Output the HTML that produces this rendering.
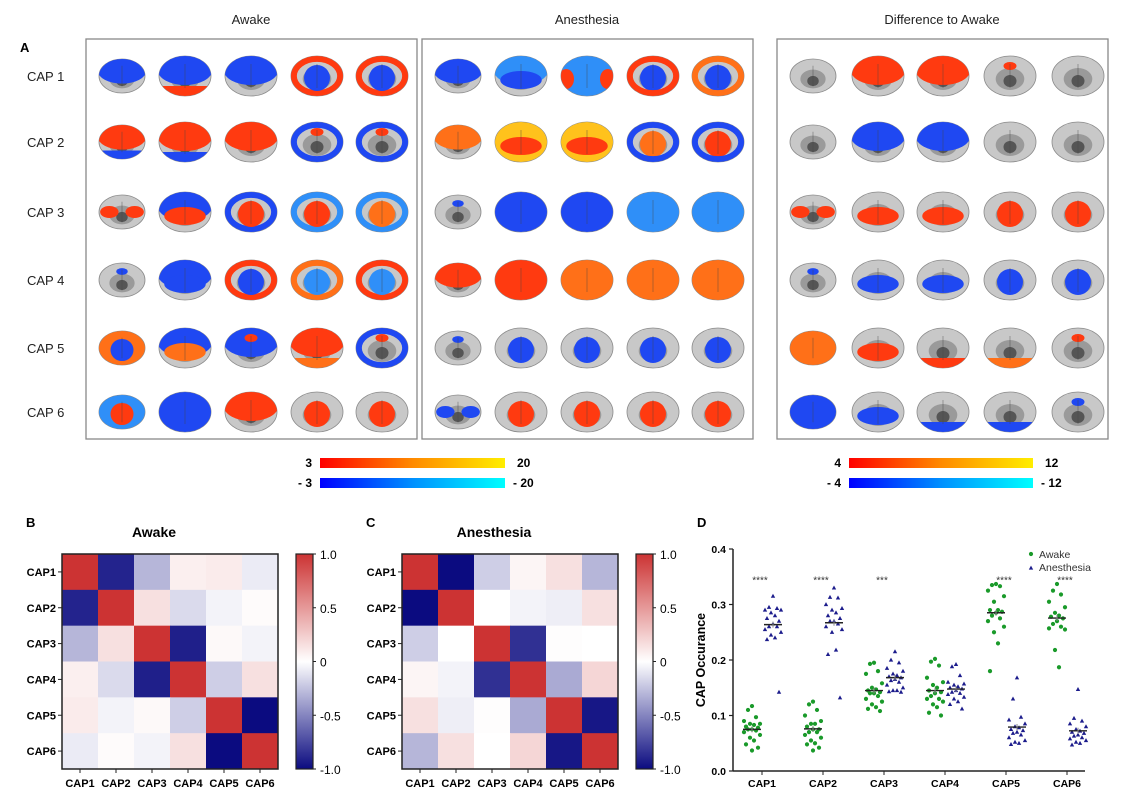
<!DOCTYPE html>
<html><head><meta charset="utf-8"><style>
body{margin:0;background:#fff;}
svg{display:block;font-family:"Liberation Sans",Arial,sans-serif;}
</style></head><body>
<svg id="fig" width="1125" height="811" viewBox="0 0 1125 811" xmlns="http://www.w3.org/2000/svg">
<defs>
<linearGradient id="gRed" x1="0" x2="1"><stop offset="0" stop-color="#ff0000"/><stop offset="0.5" stop-color="#ff8a00"/><stop offset="1" stop-color="#ffee00"/></linearGradient>
<linearGradient id="gBlue" x1="0" x2="1"><stop offset="0" stop-color="#0000ff"/><stop offset="0.5" stop-color="#0090ff"/><stop offset="1" stop-color="#00ffff"/></linearGradient>
<linearGradient id="gCorr" x1="0" y1="1" x2="0" y2="0"><stop offset="0" stop-color="#0b0b80"/><stop offset="0.5" stop-color="#ffffff"/><stop offset="1" stop-color="#cc3333"/></linearGradient>
</defs>
<g id="panelA"></g>
<g id="panelB"></g>
<g id="panelC"></g>
<g id="panelD"></g>
</svg>
<script>
// ---------- Panel A brain maps (qualitative specs) ----------
const capRows = ["CAP 1","CAP 2","CAP 3","CAP 4","CAP 5","CAP 6"];
const awakeSpec = [
 ["B:top","B:top,R:bottom","B:top","R:shell,B:center","R:shell,B:center"],
 ["R:top,B:bottom","R:top,B:bottom","R:top","B:shell,R:small","B:shell,R:small"],
 ["R:patch","B:top,R:mid","B:shell,R:center","L:shell,R:center","L:shell,O:center"],
 ["B:small","B:top,B:mid","R:shell,B:center","O:shell,L:center","R:shell,L:center"],
 ["O:full,B:center","B:top,O:mid","B:top,R:small","R:top,O:bottom","B:shell,R:small"],
 ["L:full,R:center","B:full","R:top,R:small","R:center","R:center"]
];
const anesSpec = [
 ["B:top","L:top,B:mid","L:full,R:sides","B:center,R:shell","B:center,O:shell"],
 ["O:top","Y:full,R:mid","Y:full,R:mid","O:center,B:shell","R:center,B:shell"],
 ["B:small","B:full","B:full","L:full","L:full"],
 ["R:top","R:full","O:full","O:full","O:full"],
 ["B:small","B:center","B:center","B:center","B:center"],
 ["B:patch","R:center","R:center","R:center","R:center"]
];
const diffSpec = [
 ["","R:top","R:top","R:small",""],
 ["","B:top","B:top","",""],
 ["R:patch","R:mid","R:mid","R:center","R:center"],
 ["B:small","B:mid","B:mid","B:center","B:center"],
 ["O:full","R:mid","R:bottom","O:bottom","R:small"],
 ["B:full","B:mid","B:bottom","B:bottom","B:small"]
];
const colMap = {R:"#ff3a10",O:"#ff7018",Y:"#ffc21c",B:"#1f48f2",L:"#2f8ff8"};
const NS="http://www.w3.org/2000/svg";
function mk(tag,attrs,parent){const e=document.createElementNS(NS,tag);for(const k in attrs)e.setAttribute(k,attrs[k]);parent.appendChild(e);return e;}
const pA=document.getElementById('panelA');
const rowY=[76,142,212,280,348,412];
const boxes=[{x:86,cols:[122,185,251,317,382],spec:awakeSpec,title:"Awake",name:"awake"},
 {x:422,cols:[458,521,587,653,718],spec:anesSpec,title:"Anesthesia",name:"anesthesia"},
 {x:777,cols:[813,878,943,1010,1078],spec:diffSpec,title:"Difference to Awake",name:"difference"}];
let clipId=0;
boxes.forEach(b=>{
  const box=mk('rect',{x:b.x,y:39,width:331,height:400,fill:'none',stroke:'#888','stroke-width':1.3},pA);
  
  
  const t=mk('text',{x:b.x+165,y:24,'text-anchor':'middle','font-size':13,fill:'#222'},pA);
  t.textContent=b.title;
  
  
  b.spec.forEach((row,ri)=>{
    row.forEach((s,ci)=>{
      const cx=b.cols[ci],cy=rowY[ri];
      const rx=ci===0?23:26, ry=ci===0?17:20;
      const g=mk('g',{},pA);
      
      
      const id='c'+(clipId++);
      const cp=mk('clipPath',{id:id},g);
      mk('ellipse',{cx:cx,cy:cy,rx:rx,ry:ry},cp);
      mk('ellipse',{cx:cx,cy:cy,rx:rx,ry:ry,fill:'#c8c8c8',stroke:'#8a8a8a','stroke-width':0.8},g);
      mk('ellipse',{cx:cx,cy:cy+3,rx:rx*0.55,ry:ry*0.55,fill:'#9a9a9a'},g);
      mk('ellipse',{cx:cx,cy:cy+5,rx:rx*0.25,ry:ry*0.3,fill:'#555'},g);
      const cg=mk('g',{'clip-path':'url(#'+id+')'},g);
      if(s) s.split(',').forEach(p=>{
        const [c,k]=p.split(':');const col=colMap[c];
        if(k==='top') mk('ellipse',{cx:cx,cy:cy-ry*0.3,rx:rx*1.05,ry:ry*0.75,fill:col},cg);
        if(k==='shell'){mk('ellipse',{cx:cx,cy:cy,rx:rx,ry:ry,fill:'none',stroke:col,'stroke-width':rx*0.45},cg);}
        if(k==='center') mk('ellipse',{cx:cx,cy:cy+2,rx:rx*0.5,ry:ry*0.65,fill:col},cg);
        if(k==='full') mk('ellipse',{cx:cx,cy:cy,rx:rx,ry:ry,fill:col},cg);
        if(k==='mid') mk('ellipse',{cx:cx,cy:cy+4,rx:rx*0.8,ry:ry*0.45,fill:col},cg);
        if(k==='bottom') mk('rect',{x:cx-rx,y:cy+ry*0.5,width:rx*2,height:ry*0.6,fill:col},cg);
        if(k==='small') mk('ellipse',{cx:cx,cy:cy-ry*0.5,rx:rx*0.25,ry:ry*0.2,fill:col},cg);
        if(k==='sides'){mk('ellipse',{cx:cx-rx*0.8,cy:cy+3,rx:rx*0.3,ry:ry*0.5,fill:col},cg);mk('ellipse',{cx:cx+rx*0.8,cy:cy+3,rx:rx*0.3,ry:ry*0.5,fill:col},cg);}
        if(k==='patch'){mk('ellipse',{cx:cx-rx*0.55,cy:cy,rx:rx*0.4,ry:ry*0.35,fill:col},cg);mk('ellipse',{cx:cx+rx*0.55,cy:cy,rx:rx*0.4,ry:ry*0.35,fill:col},cg);}
      });
      // dark midline detail
      mk('line',{x1:cx,x2:cx,y1:cy-ry*0.6,y2:cy+ry*0.6,stroke:'#444','stroke-width':0.8,opacity:0.5},g);
    });
  });
});
capRows.forEach((r,i)=>{
  const t=mk('text',{x:27,y:rowY[i]+5,'font-size':13,fill:'#222'},pA);t.textContent=r;
  
  
});
{const t=mk('text',{x:20,y:52,'font-size':13,'font-weight':'bold'},pA);t.textContent='A';

}
// colour bars
const cbars=[{x:320,w:185,lo:"3",hi:"20",nlo:"- 3",nhi:"- 20"},{x:849,w:184,lo:"4",hi:"12",nlo:"- 4",nhi:"- 12"}];
cbars.forEach((c,i)=>{
  const r1=mk('rect',{x:c.x,y:458,width:c.w,height:10,fill:'url(#gRed)'},pA);
  
  
  const r2=mk('rect',{x:c.x,y:478,width:c.w,height:10,fill:'url(#gBlue)'},pA);
  
  
  [[c.lo,467,'end',c.x-8],[c.hi,467,'start',c.x+c.w+12],[c.nlo,487,'end',c.x-8],[c.nhi,487,'start',c.x+c.w+8]].forEach(a=>{
    const t=mk('text',{x:a[3],y:a[1],'text-anchor':a[2],'font-size':12,'font-weight':'bold'},pA);t.textContent=a[0];
    
    
  });
});

// ---------- Panels B/C correlation heatmaps ----------
const capLabels=["CAP1","CAP2","CAP3","CAP4","CAP5","CAP6"];
const awakeCorr=[
 [1,-0.9,-0.3,0.08,0.1,-0.08],
 [-0.9,1,0.15,-0.15,-0.05,0.02],
 [-0.3,0.15,1,-0.92,0.03,-0.05],
 [0.08,-0.15,-0.92,1,-0.2,0.15],
 [0.1,-0.05,0.03,-0.2,1,-1],
 [-0.08,0.02,-0.05,0.15,-1,1]];
const anesCorr=[
 [1,-1,-0.2,0.05,0.15,-0.3],
 [-1,1,0,-0.05,-0.07,0.15],
 [-0.2,0,1,-0.85,0.01,0],
 [0.05,-0.05,-0.85,1,-0.35,0.2],
 [0.15,-0.07,0.01,-0.35,1,-0.95],
 [-0.3,0.15,0,0.2,-0.95,1]];
const cbTicks=[1,0.5,0,-0.5,-1];
const cbTickLabels=["1.0","0.5","0","-0.5","-1.0"];
function corrColor(v){
  const w=[255,255,255],r=[204,51,51],b=[11,11,128];
  const t=Math.min(1,Math.abs(v)),e=v>=0?r:b;
  return 'rgb('+e.map((c,i)=>Math.round(w[i]+(c-w[i])*t)).join(',')+')';
}
function heatmap(gid,x0,title,letter,data){
  const g=document.getElementById(gid);
  const y0=554,W=216,H=215,n=capLabels.length,cw=W/n,ch=H/n;
  const xs=i=>x0+i*cw, ys=i=>y0+i*ch;
  data.forEach((row,i)=>row.forEach((v,j)=>{
    const r=mk('rect',{x:xs(j),y:ys(i),width:cw+0.5,height:ch+0.5,fill:corrColor(v)},g);
    
    
  }));
  const fr=mk('rect',{x:x0,y:y0,width:W,height:H,fill:'none',stroke:'#222','stroke-width':1.5},g);
  
  
  capLabels.forEach((l,i)=>{
    let t=mk('text',{x:x0-6,y:ys(i)+ch/2+4,'text-anchor':'end','font-size':11,'font-weight':'bold'},g);t.textContent=l;
    
    
    mk('line',{x1:x0-4,x2:x0,y1:ys(i)+ch/2,y2:ys(i)+ch/2,stroke:'#222'},g);
    t=mk('text',{x:xs(i)+cw/2,y:y0+H+18,'text-anchor':'middle','font-size':11,'font-weight':'bold'},g);t.textContent=l;
    
    
    mk('line',{x1:xs(i)+cw/2,x2:xs(i)+cw/2,y1:y0+H,y2:y0+H+4,stroke:'#222'},g);
  });
  const cx=x0+W+18;
  const cb=mk('rect',{x:cx,y:y0,width:17,height:H,fill:'url(#gCorr)',stroke:'#222','stroke-width':1.2},g);
  
  
  cbTicks.forEach((v,i)=>{
    const yy=y0+(1-v)/2*H;
    mk('line',{x1:cx+17,x2:cx+20,y1:yy,y2:yy,stroke:'#222'},g);
    const t=mk('text',{x:cx+24,y:yy+5,'font-size':12},g);t.textContent=cbTickLabels[i];
    
    
  });
  let t=mk('text',{x:x0+W/2-16,y:537,'text-anchor':'middle','font-size':14,'font-weight':'bold'},g);t.textContent=title;
  
  
  t=mk('text',{x:x0-36,y:527,'font-size':13,'font-weight':'bold'},g);t.textContent=letter;
  
  
}
heatmap('panelB',62,'Awake','B',awakeCorr);
heatmap('panelC',402,'Anesthesia','C',anesCorr);

// ---------- Panel D scatter ----------
const dCats=["CAP1","CAP2","CAP3","CAP4","CAP5","CAP6"];
const dAwake=[
 [0.117,0.11,0.097,0.09,0.085,0.085,0.083,0.08,0.078,0.075,0.075,0.073,0.07,0.065,0.06,0.055,0.048,0.042,0.037],
 [0.125,0.12,0.11,0.1,0.09,0.085,0.085,0.08,0.075,0.075,0.07,0.07,0.065,0.06,0.055,0.05,0.048,0.042,0.037],
 [0.195,0.193,0.18,0.175,0.158,0.15,0.147,0.145,0.142,0.14,0.14,0.135,0.13,0.125,0.12,0.115,0.112,0.108],
 [0.202,0.197,0.19,0.168,0.16,0.155,0.15,0.145,0.142,0.14,0.135,0.13,0.13,0.125,0.12,0.115,0.105,0.1],
 [0.337,0.335,0.333,0.325,0.315,0.305,0.29,0.29,0.287,0.285,0.28,0.275,0.27,0.26,0.25,0.23,0.18],
 [0.337,0.325,0.318,0.305,0.295,0.285,0.28,0.278,0.275,0.27,0.265,0.26,0.257,0.255,0.218,0.187]];
const dAnes=[
 [0.315,0.295,0.293,0.29,0.29,0.285,0.28,0.275,0.27,0.265,0.26,0.26,0.255,0.25,0.245,0.24,0.237,0.142],
 [0.33,0.313,0.312,0.3,0.293,0.29,0.285,0.28,0.275,0.27,0.27,0.265,0.26,0.255,0.25,0.218,0.21,0.132],
 [0.215,0.2,0.195,0.185,0.18,0.175,0.172,0.17,0.168,0.165,0.163,0.16,0.155,0.15,0.145,0.145,0.143,0.142],
 [0.192,0.188,0.172,0.16,0.157,0.155,0.152,0.15,0.148,0.145,0.142,0.14,0.138,0.133,0.13,0.125,0.12,0.112],
 [0.168,0.13,0.097,0.092,0.085,0.08,0.078,0.075,0.073,0.07,0.068,0.065,0.06,0.055,0.052,0.05,0.048],
 [0.147,0.095,0.09,0.085,0.08,0.075,0.072,0.07,0.068,0.065,0.063,0.06,0.058,0.055,0.052,0.05,0.047]];
const dStars=["****","****","***","","****","****"];
const dYTicks=[0,0.1,0.2,0.3,0.4];
const dYTickLabels=["0.0","0.1","0.2","0.3","0.4"];
(function(){
  const g=document.getElementById('panelD');
  const X0=733,X1=1085,Y0=771,Y1=549,ymax=0.4;
  const y=v=>Y0-(v/ymax)*(Y0-Y1);
  const xc=i=>762+i*61;
  const mean=a=>a.reduce((s,v)=>s+v,0)/a.length;
  mk('line',{x1:X0,x2:X0,y1:Y1,y2:Y0,stroke:'#222','stroke-width':1.5},g);
  mk('line',{x1:X0,x2:X1,y1:Y0,y2:Y0,stroke:'#222','stroke-width':1.5},g);
  dYTicks.forEach((v,i)=>{
    mk('line',{x1:X0-4,x2:X0,y1:y(v),y2:y(v),stroke:'#222','stroke-width':1.2},g);
    const t=mk('text',{x:X0-7,y:y(v)+4,'text-anchor':'end','font-size':10.5,'font-weight':'bold'},g);t.textContent=dYTickLabels[i];
    
    
  });
  const yt=mk('text',{x:0,y:0,'font-size':12.5,'font-weight':'bold',transform:'translate(705,660) rotate(-90)','text-anchor':'middle'},g);
  yt.textContent='CAP Occurance';
  
  
  const L=mk('text',{x:697,y:527,'font-size':13,'font-weight':'bold'},g);L.textContent='D';
  
  
  const jit=[0,-4,4,-8,8,-2,2,-6,6,0,-4,4,-8,8,-2,2,-6,6,0];
  dCats.forEach((c,i)=>{
    const xa=xc(i)-10,xb=xc(i)+11;
    mk('line',{x1:xc(i),x2:xc(i),y1:Y0,y2:Y0+4,stroke:'#222'},g);
    let t=mk('text',{x:xc(i),y:Y0+16,'text-anchor':'middle','font-size':10.5,'font-weight':'bold'},g);t.textContent=c;
    
    
    dAwake[i].forEach((v,k)=>{
      const p=mk('circle',{cx:xa+jit[k%jit.length],cy:y(v),r:2.1,fill:'#1a9a2a'},g);
      
      
    });
    dAnes[i].forEach((v,k)=>{
      const px=xb+jit[k%jit.length],py=y(v);
      const p=mk('path',{d:`M${px},${py-2.4}L${px+2.2},${py+1.6}L${px-2.2},${py+1.6}Z`,fill:'#1c1c8c'},g);
      
      
    });
    [[xa,mean(dAwake[i])],[xb,mean(dAnes[i])]].forEach(m=>{
      const ln=mk('line',{x1:m[0]-9,x2:m[0]+9,y1:y(m[1]),y2:y(m[1]),stroke:'#222','stroke-width':1.4},g);
      
      
      mk('line',{x1:m[0],x2:m[0],y1:y(m[1])-3,y2:y(m[1])+3,stroke:'#888'},g);
    });
    if(dStars[i]){t=mk('text',{x:xc(i)-2,y:y(0.345)+4,'text-anchor':'middle','font-size':10,fill:'#333'},g);t.textContent=dStars[i];
    
    }
  });
  const lg=mk('g',{},g);
  
  
  mk('circle',{cx:1031,cy:554,r:2.1,fill:'#1a9a2a'},lg);
  let t=mk('text',{x:1039,y:558,'font-size':10.5,fill:'#333'},lg);t.textContent='Awake';
  mk('path',{d:'M1031,565.6L1033.2,569.6L1028.8,569.6Z',fill:'#1c1c8c'},lg);
  t=mk('text',{x:1039,y:571,'font-size':10.5,fill:'#333'},lg);t.textContent='Anesthesia';
})();
</script>
</body></html>
